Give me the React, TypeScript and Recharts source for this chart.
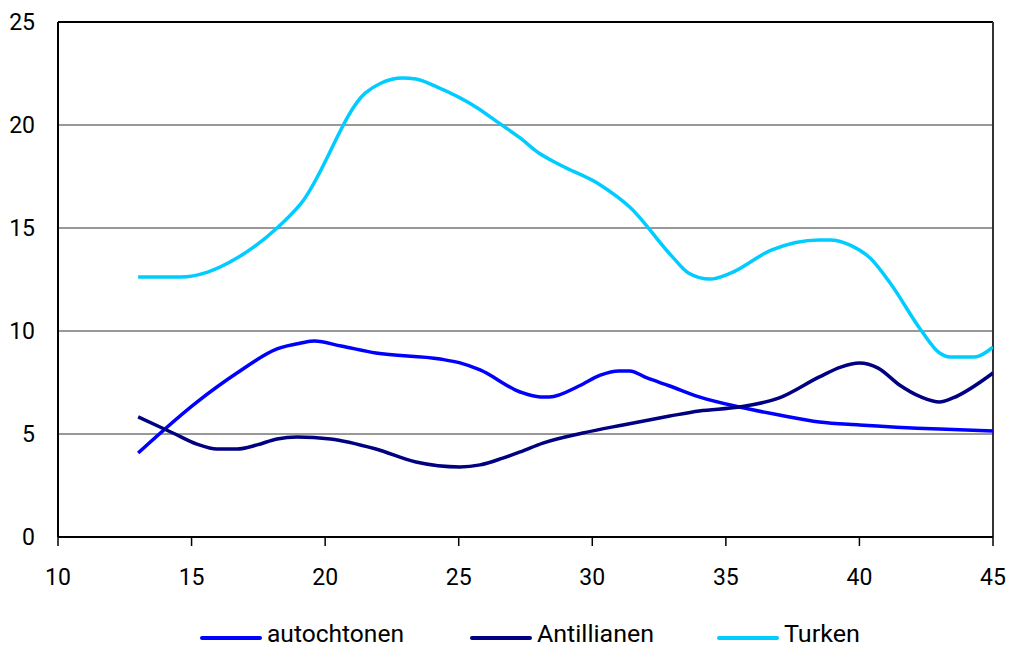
import { CartesianGrid, Legend, Line, LineChart, ReferenceLine, XAxis, YAxis } from "recharts";

const autoAges = [13, 15.2, 16.7, 18.2, 19.1, 19.6, 20.6, 21.9, 24.3, 25.05, 25.8, 27.3, 28.05, 28.4, 29.5, 30.3, 31.0, 31.4, 32.05, 32.9, 34.0, 35.5, 37.0, 38.5, 40.0, 43.0, 45];
const autoValues = [4.08, 6.55, 7.96, 9.13, 9.42, 9.51, 9.27, 8.93, 8.64, 8.45, 8.11, 7.04, 6.8, 6.8, 7.33, 7.86, 8.06, 8.06, 7.72, 7.33, 6.8, 6.31, 5.92, 5.58, 5.44, 5.24, 5.15];

const antAges = [13, 14.3, 15.2, 15.95, 16.7, 17.45, 18.2, 18.95, 20.2, 21.9, 23.4, 25.05, 25.8, 26.65, 27.3, 28.15, 29.65, 31.15, 32.9, 34.0, 35.5, 37.0, 38.5, 39.3, 40.0, 40.7, 41.5, 42.3, 43.0, 43.5, 45];
const antValues = [5.83, 5.05, 4.51, 4.27, 4.27, 4.47, 4.76, 4.85, 4.76, 4.27, 3.64, 3.4, 3.5, 3.83, 4.13, 4.56, 5.05, 5.44, 5.87, 6.12, 6.31, 6.75, 7.77, 8.25, 8.45, 8.2, 7.38, 6.8, 6.55, 6.75, 7.96];

const turkAges = [13, 14.6, 15.6, 16.7, 18.2, 19.1, 21.5, 22.1, 22.9, 23.4, 24.2, 25.7, 26.5, 27.3, 28.0, 28.8, 30.3, 31.4, 33.0, 33.6, 34.4, 35.2, 36.7, 38.5, 38.9, 39.65, 40.4, 41.15, 42.3, 43.0, 43.4, 44.3, 45];
const turkValues = [12.62, 12.62, 12.86, 13.54, 15.0, 16.2, 21.55, 22.04, 22.28, 22.23, 21.84, 20.83, 20.1, 19.37, 18.64, 18.06, 17.09, 16.02, 13.6, 12.82, 12.52, 12.82, 13.93, 14.42, 14.42, 14.17, 13.54, 12.33, 10.05, 8.93, 8.74, 8.74, 9.22];

const xTicks = [10, 15, 20, 25, 30, 35, 40, 45];
const yTicks = [0, 5, 10, 15, 20, 25];

const series = [
  { name: "autochtonen", color: "#0000ff", ages: autoAges, values: autoValues },
  { name: "Antillianen", color: "#000080", ages: antAges, values: antValues },
  { name: "Turken", color: "#00ccff", ages: turkAges, values: turkValues },
];

const legendX = [0, 270, 517];
const legendTextW = [137, 117, 76];

const font = "Roboto, 'Liberation Sans', Arial, sans-serif";

function LegendBox() {
  return (
    <svg width={670} height={28} style={{ display: "block" }}>
      {series.map((s, i) => (
        <g key={s.name} transform={`translate(${legendX[i]},0)`}>
          <line x1={2} y1={18} x2={60} y2={18} stroke={s.color} strokeWidth={4} strokeLinecap="round" />
          <text
            x={67}
            y={22}
            fontFamily={font}
            fontSize={24}
            fill="#000"
            textLength={legendTextW[i]}
            lengthAdjust="spacingAndGlyphs"
          >
            {s.name}
          </text>
        </g>
      ))}
    </svg>
  );
}

export default function App() {
  return (
    <div style={{ position: "absolute", left: 0, top: 0, background: "#fff" }}>
      <LineChart width={1010} height={648} margin={{ top: 22, right: 17, left: 8, bottom: 51 }}>
        <CartesianGrid vertical={false} stroke="#333" strokeWidth={1} />
        <XAxis
          type="number"
          dataKey="age"
          domain={[10, 45]}
          ticks={xTicks}
          allowDataOverflow
          height={60}
          axisLine={{ stroke: "#000", strokeWidth: 2 }}
          tickLine={{ stroke: "#000", strokeWidth: 1.5 }}
          tickSize={9}
          tickMargin={23}
          tick={{ fill: "#000", fontSize: 23, fontFamily: font }}
        />
        <YAxis
          type="number"
          domain={[0, 25]}
          ticks={yTicks}
          width={50}
          axisLine={{ stroke: "#000", strokeWidth: 2 }}
          tickLine={false}
          tickSize={0}
          tickMargin={23}
          tick={{ fill: "#000", fontSize: 23, fontFamily: font }}
        />
        <ReferenceLine y={25} stroke="#000" strokeWidth={2} />
        <ReferenceLine x={45} stroke="#333" strokeWidth={2} />
        {series.map((s) => (
          <Line
            key={s.name}
            name={s.name}
            data={s.ages.map((a, i) => ({ age: a, value: s.values[i] }))}
            dataKey="value"
            type="monotone"
            stroke={s.color}
            strokeWidth={3.5}
            dot={false}
            isAnimationActive={false}
          />
        ))}
        <Legend
          layout="horizontal"
          verticalAlign="middle"
          align="center"
          wrapperStyle={{ top: 620, left: 200, width: "auto" }}
          content={() => <LegendBox />}
        />
      </LineChart>
    </div>
  );
}
